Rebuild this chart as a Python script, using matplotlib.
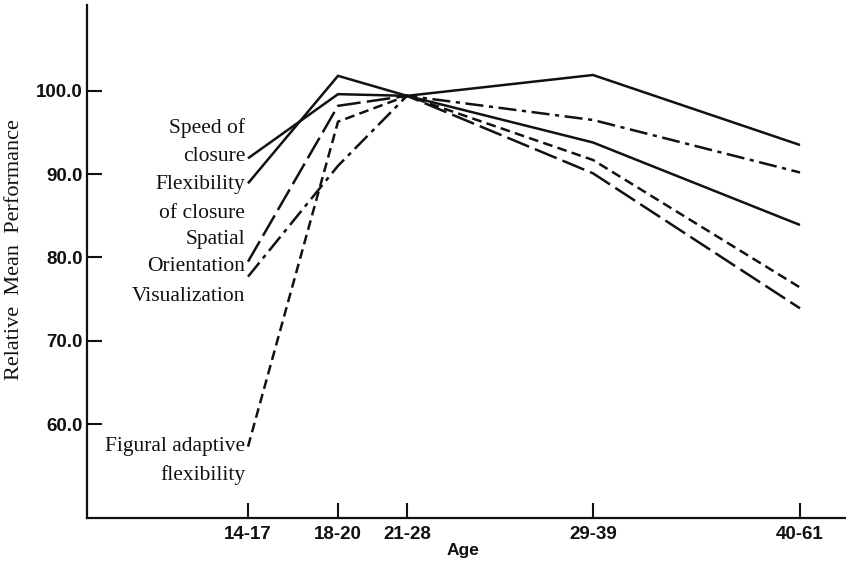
import matplotlib
matplotlib.use('Agg')
import matplotlib.pyplot as plt


# Age groups and relative mean performance
age_groups = ['14-17', '18-20', '21-28', '29-39', '40-61']
speed_of_closure = [91.9, 99.6, 99.4, 93.8, 83.9]
flexibility_of_closure = [88.9, 101.8, 99.4, 101.9, 93.5]
spatial_orientation = [79.5, 98.2, 99.4, 90.1, 73.9]
visualization = [77.7, 91.0, 99.4, 96.5, 90.2]
figural_adaptive_flexibility = [57.3, 96.3, 99.4, 91.7, 76.4]
y_ticks = [60, 70, 80, 90, 100]

# Layout: the age groups are not evenly spaced on the original axis
age_x = [248, 338, 407, 593, 800]

SERIF = ['Liberation Serif', 'DejaVu Serif']
SANS = ['Liberation Sans', 'DejaVu Sans']
INK = '#111111'

plt.rcParams['lines.scale_dashes'] = False

fig = plt.figure(figsize=(8.46, 5.61), dpi=100)
ax = fig.add_axes([87 / 846, 42.7 / 561, (846 - 87) / 846, (518.3 - 5) / 561])

series = [
    (speed_of_closure, '-'),
    (flexibility_of_closure, '-'),
    (spatial_orientation, (0, (17, 4.5))),
    (visualization, (0, (13, 4, 3, 4))),
    (figural_adaptive_flexibility, (0, (7, 3.8))),
]
for values, style in series:
    ax.plot(age_x, values, color=INK, lw=1.8, linestyle=style,
            solid_capstyle='butt', dash_capstyle='butt', solid_joinstyle='miter')

# Series labels at the left ends of the lines
labels = [
    ('Speed of', 95.5), ('closure', 92.1),
    ('Flexibility', 88.8), ('of closure', 85.3),
    ('Spatial', 82.1), ('Orientation', 78.9),
    ('Visualization', 75.3),
    ('Figural adaptive', 57.3), ('flexibility', 53.9),
]
for text, y in labels:
    ax.text(245, y, text, ha='right', va='center', fontsize=15.5,
            family=SERIF, color=INK)

ax.set_xlim(87, 846)
ax.set_ylim(48.7, 110.3)
ax.set_xticks(age_x)
ax.set_xticklabels(age_groups)
ax.set_yticks(y_ticks)
ax.set_yticklabels([f'{v:.1f}' for v in y_ticks])

for lab in ax.get_xticklabels() + ax.get_yticklabels():
    lab.set_family(SANS)
    lab.set_fontweight('bold')
    lab.set_fontsize(13.5)
    lab.set_color(INK)

ax.tick_params(axis='both', direction='in', length=11, width=1.5, color=INK)
ax.tick_params(axis='x', pad=5.5)
ax.tick_params(axis='y', pad=3)

for side in ['top', 'right']:
    ax.spines[side].set_visible(False)
for side in ['left', 'bottom']:
    ax.spines[side].set_linewidth(1.6)
    ax.spines[side].set_color(INK)

fig.text(463 / 846, 1 - 551 / 561, 'Age', ha='center', va='center',
         fontsize=12.5, fontweight='bold', family=SANS, color=INK)
fig.text(15 / 846, 1 - 250 / 561, 'Relative  Mean  Performance', ha='center',
         va='center', rotation=90, fontsize=16, family=SERIF, color=INK)

fig.savefig('out.png', dpi=100)
